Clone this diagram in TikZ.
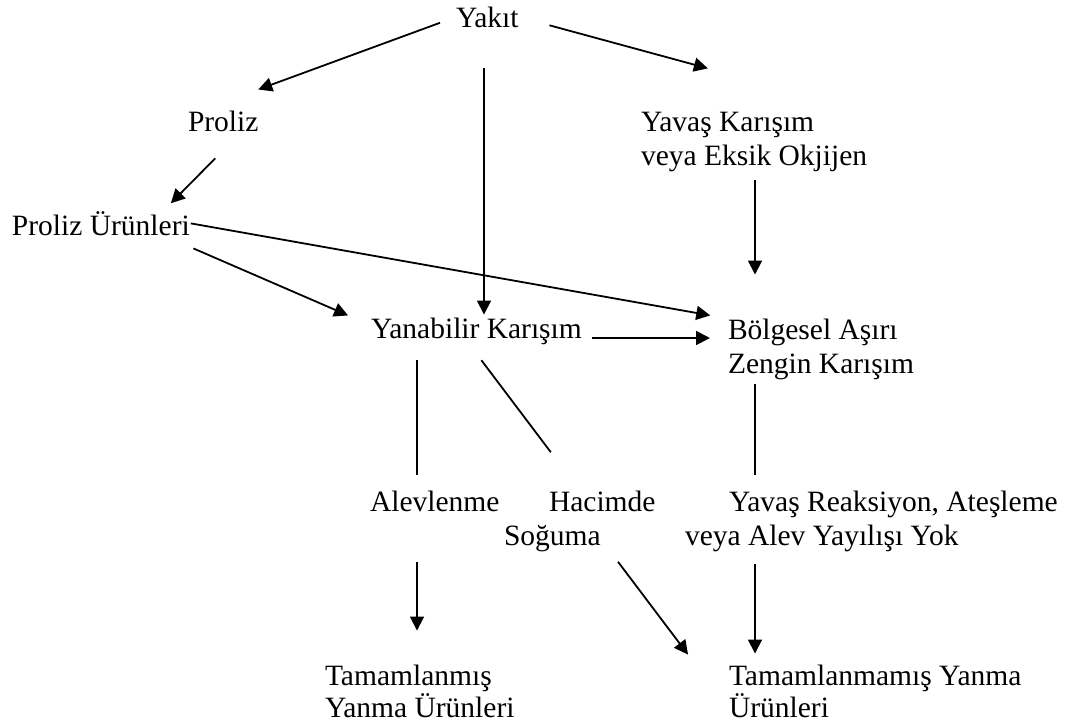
\documentclass[tikz,border=0pt]{standalone}
\usepackage{fontspec}
\setmainfont{Liberation Serif}
\usetikzlibrary{arrows.meta,calc}
\def\labelsize{29.5pt}
\def\labelskip{34pt}
\def\lowskip{32pt}

\begin{document}
\begin{tikzpicture}[x=1pt, y=-1pt, line width=1.8pt,
                    lbl/.style={inner sep=0pt, outer sep=0pt, anchor=base west, align=left,
                                font=\fontsize{\labelsize}{\labelskip}\selectfont},
                    low/.style={font=\fontsize{\labelsize}{\lowskip}\selectfont},
                    arr/.style={-{Triangle[length=14pt, width=14pt]}}]
    \useasboundingbox (0,0) rectangle (1073,726);
    % columns of the vertical strokes
    \coordinate (lcol) at (417,0);
    \coordinate (mcol) at (484,0);
    \coordinate (rcol) at (755,0);
    % multi-line labels sit on the baseline of their last line
    \node[lbl] (yakit) at (456,27) {Yakıt};
    \node[lbl] (proliz) at (188,131) {Proliz};
    \node[lbl] (urun) at (12,235) {Proliz Ürünleri};
    \node[lbl] (yavas) at (641,165) {Yavaş Karışım\\veya Eksik Okjijen};
    \node[lbl] (yanabilir) at (371,338) {Yanabilir Karışım};
    \node[lbl] (bolg) at (728,373) {Bölgesel Aşırı\\Zengin Karışım};
    \node[lbl] (alev) at (370,511) {Alevlenme};
    \node[lbl] (hac) at (504,545) {\hspace*{45pt}Hacimde\\Soğuma};
    \node[lbl] (yavr) at (685,545) {\hspace*{44pt}Yavaş Reaksiyon, Ateşleme\\veya Alev Yayılışı Yok};
    \node[lbl, low] (tam) at (325,717) {Tamamlanmış\\Yanma Ürünleri};
    \node[lbl, low] (tamn) at (729,717) {Tamamlanmamış Yanma\\Ürünleri};
    %
    \draw[arr, shorten <=17pt, shorten >=61pt] (yakit.west) -- (proliz.155);
    \draw[arr, shorten <=32pt, shorten >=165pt] (yakit.east) -- (yavas.north east);
    \draw[arr, shorten <=41pt, shorten >=3pt] (yakit.south -| mcol) -- (yanabilir.north -| mcol);
    \draw[arr, shorten <=38pt, shorten >=11pt] (proliz.-29) -- (urun.11);
    \draw[arr, shorten <=1pt, shorten >=18pt] (urun.east) -- (bolg.north west);
    \draw[arr, shorten <=33pt, shorten >=25pt] (urun.-11) -- (yanabilir.177);
    \draw[arr, shorten <=10pt, shorten >=18pt] (yanabilir.base east) -- (yanabilir.base east -| bolg.west);
    \draw[arr, shorten <=9pt, shorten >=44pt] (yavas.south -| rcol) -- (bolg.north -| rcol);
    %
    \draw[shorten <=16pt, shorten >=16pt] (yanabilir.south -| lcol) -- (alev.north -| lcol);
    \draw[shorten <=20pt, shorten >=48pt] (yanabilir.242) -- (hac.north);
    \draw[shorten <=5pt, shorten >=16pt] (bolg.south -| rcol) -- (yavr.north -| rcol);
    \draw[arr, shorten <=51pt, shorten >=34pt] (alev.south -| lcol) -- (tam.north -| lcol);
    \draw[arr, shorten <=13pt, shorten >=68pt] (hac.-45) -- (tamn.187);
    \draw[arr, shorten <=13pt, shorten >=11pt] (yavr.south -| rcol) -- (tamn.north -| rcol);
\end{tikzpicture}
\end{document}
